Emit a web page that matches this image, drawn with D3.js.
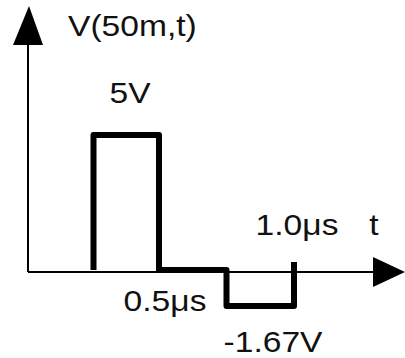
<!DOCTYPE html>
<html>
<head>
<meta charset="utf-8">
<script src="https://cdn.jsdelivr.net/npm/d3@7"></script>
<style>
  body { margin: 0; background: #fff; }
  text { font-family: "Liberation Sans", Arial, sans-serif; fill: #111; font-size: 30px; }
</style>
</head>
<body>
<div class="chart"></div>
<script>
// waveform breakpoints (time in us, voltage in V)
var times   = [0.25, 0.25, 0.5, 0.5, 0.75, 0.75, 1.0, 1.0];
var volts   = [0,    5,    5,   0,   0,    -1.67, -1.67, 0];
var tickLabels = ["0.5\u03bcs", "1.0\u03bcs"];
var tickTimes  = [0.5, 1.0];
var levelLabels = ["5V", "-1.67V"];
var levelValues = [5, -1.67];

var width = 405, height = 358;

var svg = d3.select(".chart").append("svg")
    .attr("width", width)
    .attr("height", height);

// sketch is not drawn to scale, so use piecewise scales
var x = d3.scaleLinear().domain([0, 0.5, 1.0]).range([28, 159, 294]);
var y = d3.scaleLinear().domain([-1.67, 0, 5]).range([306, 270, 135]);

var x0 = x(0), y0 = y(0) + 2;

// axes
svg.append("line")
    .attr("x1", x0).attr("y1", y0)
    .attr("x2", x0).attr("y2", 40)
    .attr("stroke", "#000").attr("stroke-width", 2);
svg.append("path")
    .attr("d", "M" + (x0 - 15) + ",45 L" + (x0 + 1) + ",6 L" + (x0 + 15) + ",45 Z")
    .attr("fill", "#000");

svg.append("line")
    .attr("x1", x0).attr("y1", y0)
    .attr("x2", 378).attr("y2", y0)
    .attr("stroke", "#000").attr("stroke-width", 2);
svg.append("path")
    .attr("d", "M373," + (y0 - 15) + " L405," + y0 + " L373," + (y0 + 15) + " Z")
    .attr("fill", "#000");

// waveform
var line = d3.line()
    .x(function(d) { return x(d[0]); })
    .y(function(d) { return y(d[1]); });

svg.append("path")
    .datum(d3.zip(times, volts))
    .attr("d", line)
    .attr("fill", "none")
    .attr("stroke", "#000")
    .attr("stroke-width", 6)
    .attr("stroke-linejoin", "round");

// tick at 1.0us pokes above the axis
svg.append("line")
    .attr("x1", x(1.0)).attr("x2", x(1.0))
    .attr("y1", y(0)).attr("y2", y(0) - 8)
    .attr("stroke", "#000").attr("stroke-width", 6);

// text is a little wider than Liberation Sans, stretch it
function label(px, py, str, anchor) {
    svg.append("text")
        .attr("transform", "translate(" + px + "," + py + ") scale(1.12,1)")
        .attr("text-anchor", anchor || "start")
        .text(str);
}

label(68, 36, "V(50m,t)");
label(374, 235, "t", "middle");

tickTimes.forEach(function(d, i) {
    if (i === 0) label(x(d) + 6, 311, tickLabels[i], "middle");
    else label(x(d) + 3, 235, tickLabels[i], "middle");
});

levelValues.forEach(function(d, i) {
    if (d > 0) label(130, y(d) - 32, levelLabels[i], "middle");
    else label(273, y(d) + 46, levelLabels[i], "middle");
});
</script>
</body>
</html>
